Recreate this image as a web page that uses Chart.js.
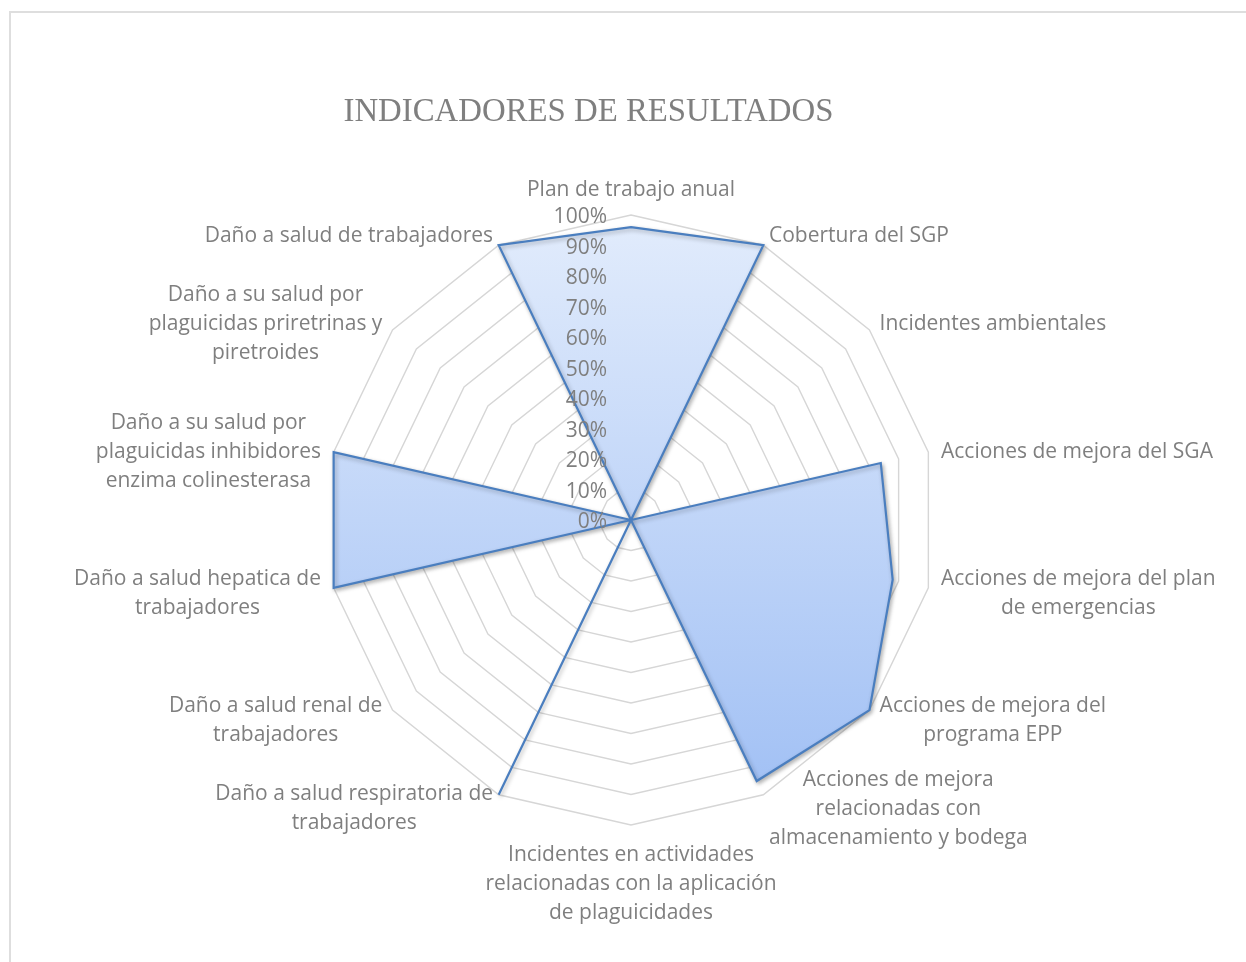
<!DOCTYPE html>
<html>
<head>
<meta charset="utf-8">
<script src="https://cdn.jsdelivr.net/npm/chart.js@4.4.1/dist/chart.umd.min.js"></script>
<style>
html,body{margin:0;padding:0;background:#fff;overflow:hidden;}
#frame{position:absolute;left:9px;top:11px;width:1300px;height:1000px;border:2px solid #dedede;box-sizing:border-box;}
#wrap{position:absolute;left:0;top:0;width:1246px;height:962px;}
</style>
</head>
<body>
<div id="frame"></div>
<div id="wrap"><canvas id="c" width="1246" height="962"></canvas></div>
<script>
const chartTitle = 'INDICADORES DE RESULTADOS';
const categories = [
  ['Plan de trabajo anual'],
  ['Cobertura del SGP'],
  ['Incidentes ambientales'],
  ['Acciones de mejora del SGA'],
  ['Acciones de mejora del plan', 'de emergencias'],
  ['Acciones de mejora del', 'programa EPP'],
  ['Acciones de mejora', 'relacionadas con', 'almacenamiento y bodega'],
  ['Incidentes en actividades', 'relacionadas con la aplicación', 'de plaguicidades'],
  ['Daño a salud respiratoria de', 'trabajadores'],
  ['Daño a salud renal de', 'trabajadores'],
  ['Daño a salud hepatica de', 'trabajadores'],
  ['Daño a su salud por', 'plaguicidas inhibidores', 'enzima colinesterasa'],
  ['Daño a su salud por', 'plaguicidas priretrinas y', 'piretroides'],
  ['Daño a salud de trabajadores']
];
const values = [96, 100, 0, 84, 88, 100, 95, 0, 100, 0, 100, 100, 0, 100];
const tickLabels = ['0%', '10%', '20%', '30%', '40%', '50%', '60%', '70%', '80%', '90%', '100%'];

const textColor = '#7f7f7f';
const labelFont = '21px "Open Sans"';

const shadowPlugin = {
  id: 'shadow',
  beforeDatasetsDraw(chart) {
    const ctx = chart.ctx;
    ctx.save();
    ctx.shadowColor = 'rgba(0,0,0,0.28)';
    ctx.shadowBlur = 4;
    ctx.shadowOffsetX = 1.5;
    ctx.shadowOffsetY = 2;
  },
  afterDatasetsDraw(chart) {
    chart.ctx.restore();
  }
};

const textPlugin = {
  id: 'texts',
  afterDraw(chart) {
    const s = chart.scales.r;
    const ctx = chart.ctx;
    const dy = 2.5;
    ctx.save();
    // title
    ctx.fillStyle = textColor;
    ctx.font = '32.8px "Liberation Serif"';
    ctx.textAlign = 'center';
    ctx.textBaseline = 'alphabetic';
    ctx.fillText(chartTitle, s.xCenter - 42.5, 121);

    // category labels
    ctx.font = labelFont;
    ctx.textAlign = 'center';
    ctx.textBaseline = 'middle';
    const LH = 29;
    categories.forEach((lines, i) => {
      const p = s.getPointPosition(i, s.drawingArea + 13);
      const a = s.getIndexAngle(i);
      const sn = Math.sin(a), cs = Math.cos(a);
      const w = Math.max(...lines.map(l => ctx.measureText(l).width));
      let cx = p.x;
      if (sn > 0.01) cx = p.x + w / 2;
      else if (sn < -0.01) cx = p.x - w / 2;
      const h = lines.length * LH;
      let top;
      if (Math.abs(sn) < 0.01) top = cs > 0 ? p.y - h : p.y;
      else top = p.y - h / 2;
      lines.forEach((l, k) => ctx.fillText(l, cx, top + LH * (k + 0.5) + dy));
    });

    // tick labels
    ctx.textAlign = 'right';
    ctx.textBaseline = 'middle';
    s.ticks.forEach((t, i) => {
      const d = s.getDistanceFromCenterForValue(t.value);
      ctx.fillText(tickLabels[i], s.xCenter - 24, s.yCenter - d + dy);
    });
    ctx.restore();
  }
};

new Chart(document.getElementById('c'), {
  type: 'radar',
  data: {
    labels: categories,
    datasets: [{
      data: values,
      fill: true,
      backgroundColor: (c) => {
        const ca = c.chart.chartArea;
        if (!ca) return '#c5d9fa';
        const g = c.chart.ctx.createLinearGradient(0, ca.top, 0, ca.bottom);
        g.addColorStop(0, '#e2ecfc');
        g.addColorStop(1, '#9ebef4');
        return g;
      },
      borderColor: '#4a7ebf',
      borderWidth: 2.2,
      pointRadius: 0,
      pointHoverRadius: 0,
      tension: 0
    }]
  },
  options: {
    responsive: false,
    devicePixelRatio: 1,
    animation: false,
    layout: { padding: { left: 326, right: 310, top: 215, bottom: 137 } },
    plugins: { legend: { display: false }, tooltip: { enabled: false }, title: { display: false } },
    scales: {
      r: {
        min: 0,
        max: 100,
        ticks: { stepSize: 10, display: false },
        grid: { color: '#d6d6d6', lineWidth: 1.4, circular: false },
        angleLines: { display: false },
        pointLabels: { display: false }
      }
    }
  },
  plugins: [shadowPlugin, textPlugin]
});
</script>
</body>
</html>
